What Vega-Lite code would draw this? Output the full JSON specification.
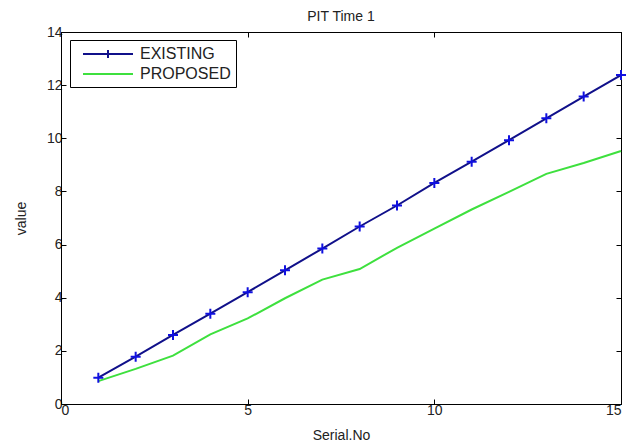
{
  "$schema": "https://vega.github.io/schema/vega-lite/v6.json",
  "width": 560,
  "height": 372,
  "autosize": "none",
  "padding": {"left": 61, "top": 32, "right": 15, "bottom": 39},
  "background": "white",
  "config": {
    "font": "Liberation Sans",
    "view": {"stroke": "black", "strokeWidth": 1},
    "axis": {"grid": false, "domainColor": "black", "tickColor": "black", "tickSize": -5, "labelFont": "Liberation Sans", "labelFontSize": 14, "labelColor": "#222", "titleFont": "Liberation Sans", "titleFontSize": 14, "titleFontWeight": "normal", "titleColor": "#222"}
  },
  "title": {"text": "PIT Time 1", "fontSize": 14, "fontWeight": "normal", "font": "Liberation Sans", "color": "#222", "offset": 1},
  "data": {"values": [
    {"x": 1, "value": 0.99, "series": "EXISTING"},
    {"x": 2, "value": 1.78, "series": "EXISTING"},
    {"x": 3, "value": 2.6, "series": "EXISTING"},
    {"x": 4, "value": 3.4, "series": "EXISTING"},
    {"x": 5, "value": 4.21, "series": "EXISTING"},
    {"x": 6, "value": 5.03, "series": "EXISTING"},
    {"x": 7, "value": 5.85, "series": "EXISTING"},
    {"x": 8, "value": 6.68, "series": "EXISTING"},
    {"x": 9, "value": 7.47, "series": "EXISTING"},
    {"x": 10, "value": 8.32, "series": "EXISTING"},
    {"x": 11, "value": 9.12, "series": "EXISTING"},
    {"x": 12, "value": 9.93, "series": "EXISTING"},
    {"x": 13, "value": 10.75, "series": "EXISTING"},
    {"x": 14, "value": 11.57, "series": "EXISTING"},
    {"x": 15, "value": 12.38, "series": "EXISTING"},
    {"x": 1, "value": 0.86, "series": "PROPOSED"},
    {"x": 2, "value": 1.32, "series": "PROPOSED"},
    {"x": 3, "value": 1.82, "series": "PROPOSED"},
    {"x": 4, "value": 2.62, "series": "PROPOSED"},
    {"x": 5, "value": 3.22, "series": "PROPOSED"},
    {"x": 6, "value": 3.98, "series": "PROPOSED"},
    {"x": 7, "value": 4.68, "series": "PROPOSED"},
    {"x": 8, "value": 5.08, "series": "PROPOSED"},
    {"x": 9, "value": 5.88, "series": "PROPOSED"},
    {"x": 10, "value": 6.6, "series": "PROPOSED"},
    {"x": 11, "value": 7.32, "series": "PROPOSED"},
    {"x": 12, "value": 7.98, "series": "PROPOSED"},
    {"x": 13, "value": 8.66, "series": "PROPOSED"},
    {"x": 14, "value": 9.07, "series": "PROPOSED"},
    {"x": 15, "value": 9.52, "series": "PROPOSED"}
  ]},
  "layer": [
    {
      "mark": {"type": "line", "strokeWidth": 2, "clip": false},
      "encoding": {
        "x": {"field": "x", "type": "quantitative", "scale": {"domain": [0, 15], "nice": false}, "axis": {"values": [0, 5, 10, 15], "title": "Serial.No", "titlePadding": 11, "labelPadding": 4}},
        "y": {"field": "value", "type": "quantitative", "scale": {"domain": [0, 14], "nice": false}, "axis": {"values": [0, 2, 4, 6, 8, 10, 12, 14], "title": "value", "titlePadding": 18, "labelPadding": 4}},
        "color": {
          "field": "series", "type": "nominal",
          "scale": {"domain": ["EXISTING", "PROPOSED"], "range": ["#10108a", "#3ee03e"]},
          "legend": {
            "title": null, "orient": "none", "legendX": 9, "legendY": 8,
            "padding": 5, "strokeColor": "black", "fillColor": "white",
            "symbolSize": 256, "symbolStrokeWidth": 2, "symbolType": "stroke",
            "labelFontSize": 16, "labelFont": "Liberation Sans", "labelColor": "#222", "rowPadding": 3, "labelOffset": 47,
            "encode": {"symbols": {"update": {"shape": {"signal": "datum.value === 'EXISTING' ? 'M-0.125,0H6.125M3,-0.5V0.5' : 'M-0.125,0H6.125'"}}}}
          }
        }
      }
    },
    {
      "transform": [{"filter": "datum.series === 'EXISTING'"}],
      "mark": {"type": "point", "shape": "M-1,0H1M0,-1V1", "filled": false, "stroke": "#1010e0", "strokeWidth": 2, "size": 100, "opacity": 1, "clip": false},
      "encoding": {
        "x": {"field": "x", "type": "quantitative", "axis": null},
        "y": {"field": "value", "type": "quantitative", "axis": null}
      }
    },
    {
      "mark": {"type": "point", "opacity": 0},
      "encoding": {
        "x": {"field": "x", "type": "quantitative", "axis": {"orient": "top", "values": [0, 5, 10, 15], "labels": false, "title": null}},
        "y": {"field": "value", "type": "quantitative", "axis": {"orient": "right", "values": [0, 2, 4, 6, 8, 10, 12, 14], "labels": false, "title": null}}
      }
    }
  ],
  "resolve": {"axis": {"x": "independent", "y": "independent"}}
}
